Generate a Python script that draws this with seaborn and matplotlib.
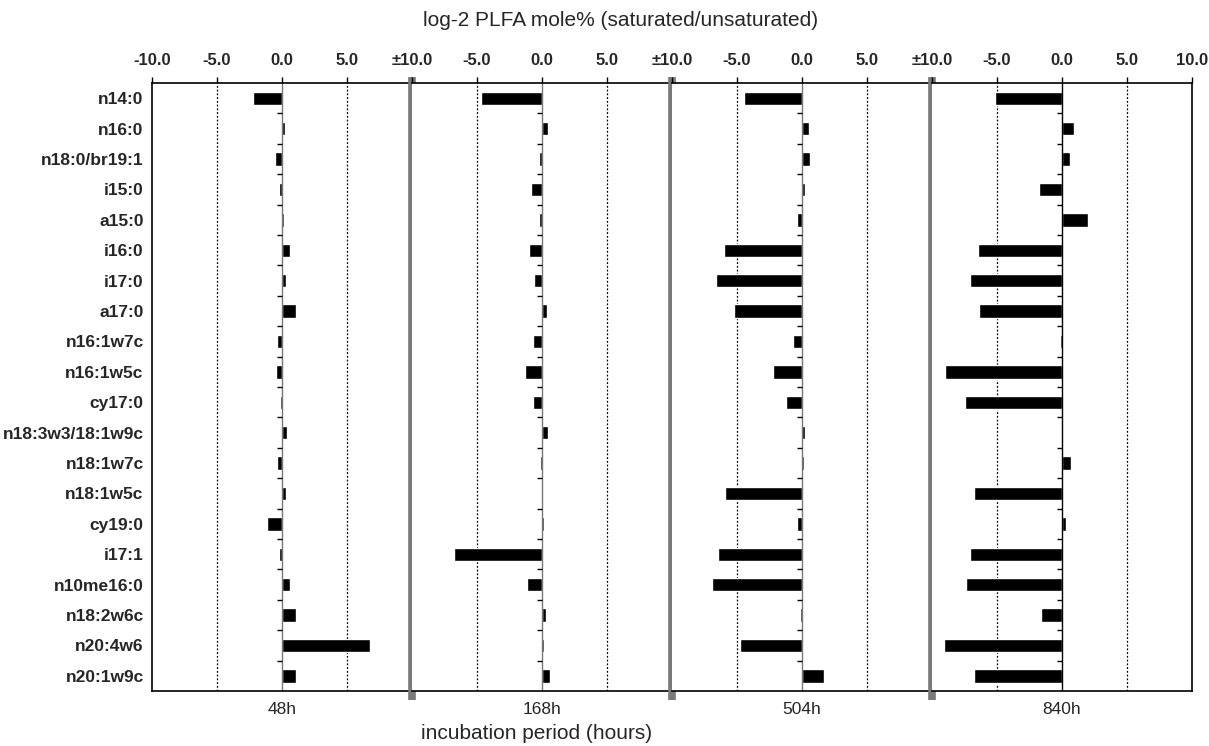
import numpy as np
import pandas as pd
import matplotlib.pyplot as plt
import seaborn as sns

sns.set_style("white")
plt.rcParams["font.family"] = ["Liberation Sans", "DejaVu Sans"]

# ## Dados

lipids = ["n14:0", "n16:0", "n18:0/br19:1", "i15:0", "a15:0", "i16:0", "i17:0",
          "a17:0", "n16:1w7c", "n16:1w5c", "cy17:0", "n18:3w3/18:1w9c",
          "n18:1w7c", "n18:1w5c", "cy19:0", "i17:1", "n10me16:0", "n18:2w6c",
          "n20:4w6", "n20:1w9c"]

periods = ["48h", "168h", "504h", "840h"]

h48 = [-2.25, 0.25, -0.5, -0.2, 0.15, 0.65, 0.3, 1.1, -0.4, -0.45,
       -0.15, 0.4, -0.4, 0.3, -1.15, -0.25, 0.6, 1.05, 6.8, 1.05]
h168 = [-4.7, 0.45, -0.2, -0.87, -0.2, -1.0, -0.6, 0.35, -0.67, -1.33,
        -0.72, 0.45, -0.13, 0.1, 0.15, -6.8, -1.13, 0.3, 0.15, 0.65]
h504 = [-4.5, 0.55, 0.65, 0.23, -0.4, -6.0, -6.6, -5.25, -0.67, -2.2,
        -1.2, 0.23, 0.15, -5.9, -0.36, -6.45, -6.95, -0.13, -4.8, 1.67]
h840 = [-5.15, 0.95, 0.62, -1.77, 1.98, -6.43, -7.1, -6.36, -0.18, -9.0,
        -7.43, -0.1, 0.65, -6.74, 0.33, -7.1, -7.38, -1.6, -9.1, -6.8]

df = pd.DataFrame({"lipid": lipids, "48h": h48, "168h": h168,
                   "504h": h504, "840h": h840})

# ## Figura

fig, axes = plt.subplots(1, 4, figsize=(12.09, 7.46), dpi=100, sharey=True)
fig.subplots_adjust(left=0.1257, right=0.986, top=0.8887, bottom=0.0737, wspace=0)

tick_font = dict(fontsize=12, fontweight="bold")
boundaries = np.arange(len(lipids) - 1) + 0.5

for i, (ax, p) in enumerate(zip(axes, periods)):
    sns.barplot(data=df, x=p, y="lipid", orient="h", color="black",
                width=0.44, saturation=1, ax=ax)
    ax.set_xlim(-10, 10)
    ax.set_ylim(len(lipids) - 0.5, -0.5)

    # linhas de referência
    for v in (-5, 5):
        ax.axvline(v, color="black", lw=0.9, ls=(0, (1.5, 1.5)), zorder=0)
    ax.axvline(0, color="black" if i == 3 else "#777777", lw=1, zorder=1)
    ax.hlines(boundaries, -0.4, 0, color="black", lw=1)

    # eixo x no topo
    ax.xaxis.tick_top()
    ticks = [-10, -5, 0, 5] + ([10] if i == 3 else [])
    labels = ["-10.0" if i == 0 else "±10.0", "-5.0", "0.0", "5.0"] + (["10.0"] if i == 3 else [])
    ax.set_xticks(ticks)
    ax.set_xticklabels(labels, **tick_font)
    ax.tick_params(axis="x", direction="out", length=4, width=1, color="black", pad=7)
    ax.tick_params(axis="y", length=0, pad=6)
    ax.set_xlabel("")
    ax.set_ylabel("")

    for s in ["top", "bottom", "left", "right"]:
        ax.spines[s].set_color("black")
        ax.spines[s].set_linewidth(1.2)
    if i > 0:
        ax.spines["left"].set_visible(False)
    if i < 3:
        ax.spines["right"].set_visible(False)
        ax.axvline(10, color="#7a7a7a", lw=5.5, ymin=-0.015, ymax=1.01,
                   clip_on=False, zorder=5, solid_capstyle="butt")

    ax.text(0, -0.031, p, transform=ax.get_xaxis_transform(),
            ha="center", va="center", fontsize=12.5)

for lab in axes[0].get_yticklabels():
    lab.set_fontweight("bold")
    lab.set_fontsize(12.5)

fig.text(0.513, 0.973, "log-2 PLFA mole% (saturated/unsaturated)",
         ha="center", va="center", fontsize=15)
fig.text(0.444, 0.017, "incubation period (hours)",
         ha="center", va="center", fontsize=15)

plt.savefig("out.png", dpi=100)
